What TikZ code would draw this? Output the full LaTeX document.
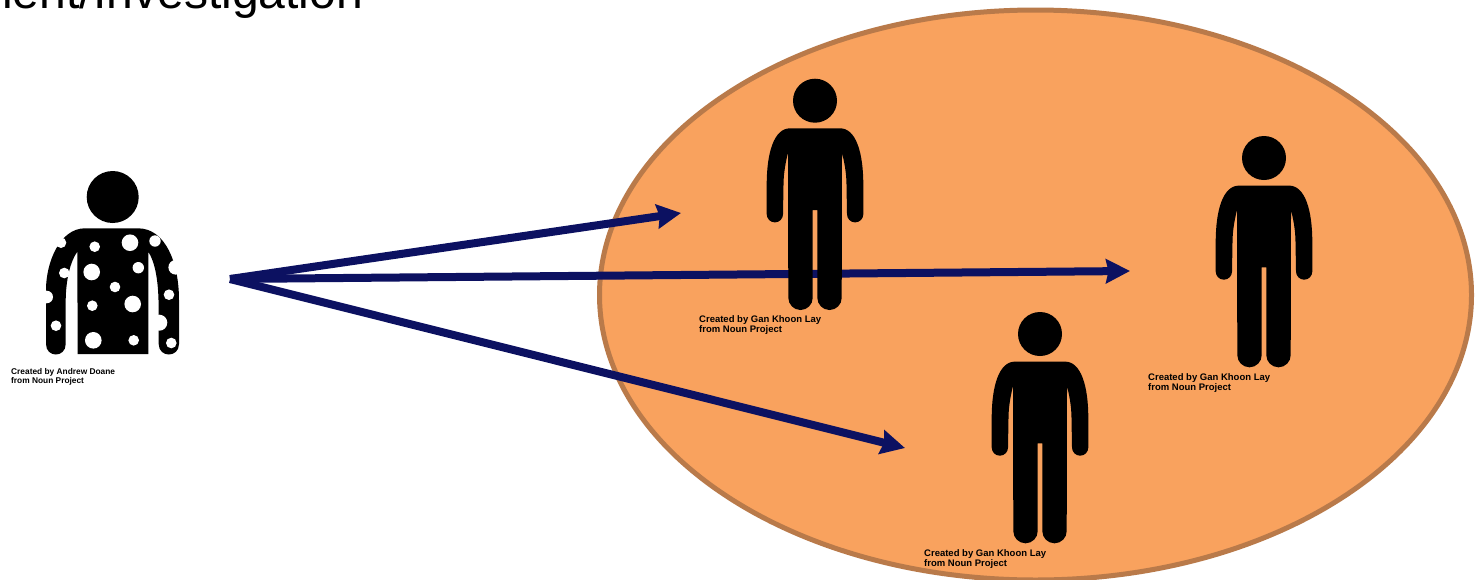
\documentclass[tikz,border=0pt]{standalone}
\usepackage{fontspec}
\setmainfont{Liberation Sans}
\usetikzlibrary{arrows.meta}
\definecolor{groupfill}{HTML}{F9A25E}
\definecolor{groupline}{HTML}{B97A4A}
\definecolor{arrowblue}{HTML}{0C1161}
\tikzstyle{cred}=[anchor=north west, inner sep=0, align=left, text=black]
\tikzstyle{arw}=[draw=arrowblue, line width=8pt, -{Stealth[length=24pt, width=24pt, inset=2.5pt]}]
\tikzset{standing/.pic={
    \fill (0,0) circle (22);
    \fill (-25,27.6) -- (25,27.6) .. controls (41,27.6) and (48.3,52) .. (48.3,84) -- (48.3,113.5)
        .. controls (48.3,118) and (44.7,121.7) .. (40.15,121.7) .. controls (35.6,121.7) and (32,118) .. (32,113.5)
        -- (31.5,84) .. controls (31.5,72) and (29,60) .. (27,52) -- (26.7,197.1)
        .. controls (26.7,203.8) and (21.2,209.3) .. (14.5,209.3) .. controls (7.8,209.3) and (2.3,203.8) .. (2.3,197.1)
        -- (2.3,109.3) -- (-2.3,109.3) -- (-2.3,197.1)
        .. controls (-2.3,203.8) and (-7.8,209.3) .. (-14.5,209.3) .. controls (-21.2,209.3) and (-26.7,203.8) .. (-26.7,197.1)
        -- (-27,52) .. controls (-29,60) and (-31.5,72) .. (-31.5,84) -- (-32,113.5)
        .. controls (-32,118) and (-35.6,121.7) .. (-40.15,121.7) .. controls (-44.7,121.7) and (-48.3,118) .. (-48.3,113.5)
        -- (-48.3,84) .. controls (-48.3,52) and (-41,27.6) .. (-25,27.6) -- cycle;
    \node[cred, font=\bfseries\fontsize{9.5}{9.8}\selectfont] (-credit) at (-116,215.2) {Created by Gan Khoon Lay\\from Noun Project};
}}
\begin{document}
\begin{tikzpicture}[x=1pt, y=-1pt]
    \useasboundingbox (0,0) rectangle (1477,579);
    \clip (0,0) rectangle (1477,579);
    \node[anchor=base west, inner sep=0, font=\fontsize{48.1}{48}\selectfont] (title) at (2,8) {ient/Investigation};

    \draw[draw=groupline, fill=groupfill, line width=5pt] (1035.5,295) ellipse [x radius=436, y radius=285];

    \coordinate (source) at (230,279);
    \coordinate (targeta) at (681,213);
    \coordinate (targetb) at (1130,271);
    \coordinate (targetc) at (905,448);
    \draw[arw] (source) -- (targeta);
    \draw[arw] (source) -- (targetb);
    \draw[arw] (source) -- (targetc);

    \pic (persona) at (815,100.7) {standing};
    \pic (personb) at (1264,158) {standing};
    \pic (personc) at (1040,334) {standing};

    \fill (112.7,197) circle (26);
    \fill (85,228.3) -- (138,228.3) .. controls (165,228.3) and (179,262) .. (179,300) -- (179,344)
        .. controls (179,358) and (158.7,358) .. (158.7,344) -- (158.5,300) .. controls (158,280) and (155,262) .. (148.3,251.7)
        -- (148.3,354) -- (77.7,354) -- (77.3,251.7) .. controls (70,262) and (66,280) .. (65.7,300) -- (65.7,344)
        .. controls (65.7,358) and (46,358) .. (46,344) -- (46,290) .. controls (46,262) and (60,228.3) .. (85,228.3) -- cycle;
    \foreach \x/\y/\r in {61/242.7/5.3, 94.7/246.7/5.3, 130/242.7/8.3, 155/241/5.7, 64.3/273/5.3,
        91.7/272/8.3, 138.3/267.7/5.7, 175.7/267.3/7.3, 115/287/5.3, 169/294.7/5.3, 46.7/297/6.3,
        92.3/305.7/5.3, 132.7/304/8.3, 159.3/322.7/8, 56/325.7/5.3, 93.3/340.3/8.3, 133.7/340.3/5.3,
        171.3/343/5.3}
        \fill[white] (\x,\y) circle (\r);
    \node[cred, font=\bfseries\fontsize{8.35}{9.4}\selectfont] (spotcredit) at (11,368.3) {Created by Andrew Doane\\from Noun Project};
\end{tikzpicture}
\end{document}
